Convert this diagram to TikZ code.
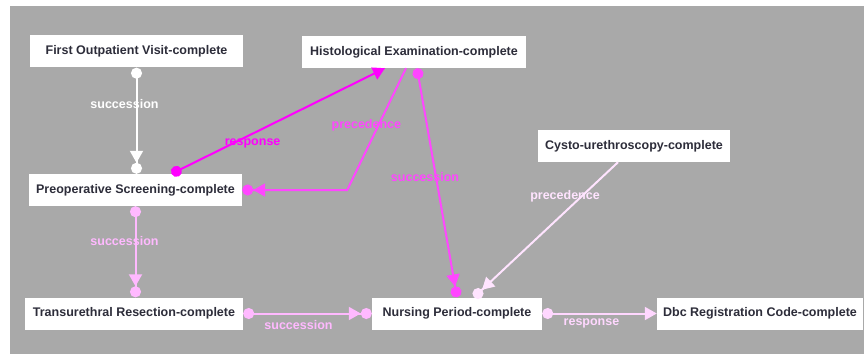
\documentclass[tikz,border=0pt]{standalone}
\usepackage{fontspec}
\setmainfont{Liberation Sans}
\usepackage{tikz}
\usetikzlibrary{calc}
\usetikzlibrary{positioning}
\usetikzlibrary{arrows.meta}

\definecolor{canvas}{RGB}{169,169,169}
\definecolor{boxtext}{RGB}{45,45,58}
\definecolor{strongpink}{RGB}{255,0,255}
\definecolor{midpink}{RGB}{255,70,255}
\definecolor{softpink}{RGB}{255,185,255}
\definecolor{palepink}{RGB}{255,215,255}
\definecolor{faintpink}{RGB}{255,228,255}

\tikzset{
  task/.style={fill=white,text=boxtext,font=\fontsize{12.5}{14}\selectfont\bfseries,minimum height=32pt,inner sep=0pt},
  lbl/.style={font=\fontsize{12.5}{14}\selectfont\bfseries,inner sep=0pt},
  succ/.style={line width=2pt,{Circle[length=11pt]}-{Triangle[length=12pt,width=13pt]Circle[length=11pt]}},
  resp/.style={line width=2pt,{Circle[length=11pt]}-{Triangle[length=12pt,width=13pt]}},
  prec/.style={line width=2pt,-{Triangle[length=12pt,width=13pt]Circle[length=11pt]}}
}

\begin{document}
\begin{tikzpicture}[x=1pt,y=1pt]
\useasboundingbox (0,0) rectangle (865,354);
\fill[canvas] (10,0) rectangle (864,348);

\node[task,minimum width=213pt] (first) at (136.5,302.5) {First Outpatient Visit-complete};
\node[task,minimum width=224pt] (histo) at (414,302) {Histological Examination-complete};
\node[task,minimum width=192pt] (cysto) at (634,208) {Cysto-urethroscopy-complete};
\node[task,minimum width=213pt] (preop) at (135.5,164) {Preoperative Screening-complete};
\node[task,minimum width=218pt] (turb) at (134,40.5) {Transurethral Resection-complete};
\node[task,minimum width=170pt] (nursing) at (457,40.5) {Nursing Period-complete};
\node[task,minimum width=206pt] (dbc) at (760,40.5) {Dbc Registration Code-complete};

\coordinate (bend) at ([xshift=105pt]preop.east);

\draw[succ,white] (first.south) -- node[lbl,pos=0.34,xshift=-12pt] {succession} (first.south |- preop.north);
\draw[resp,strongpink] ([xshift=36pt]preop.north) -- node[lbl,pos=0.38,yshift=-10pt] {response} ([xshift=-29pt]histo.south);
\draw[prec,midpink] ([xshift=-8pt]histo.south) -- node[lbl,pos=0.47,xshift=-12pt] {precedence} (bend) -- (preop.east);
\draw[succ,midpink] ([xshift=3pt]histo.south) -- node[lbl,pos=0.476,xshift=-11pt] {succession} (nursing.north);
\draw[prec,faintpink] ([xshift=-16pt]cysto.south) -- node[lbl,pos=0.25,xshift=-17pt] {precedence} ([xshift=17pt]nursing.north);
\draw[succ,softpink] (preop.south) -- node[lbl,pos=0.38,xshift=-11pt] {succession} (preop.south |- turb.north);
\draw[succ,softpink] (turb.east) -- node[lbl,pos=0.43,yshift=-12pt] {succession} (nursing.west);
\draw[resp,palepink] (nursing.east) -- node[lbl,pos=0.43,yshift=-10pt] {response} (dbc.west);
\end{tikzpicture}
\end{document}
